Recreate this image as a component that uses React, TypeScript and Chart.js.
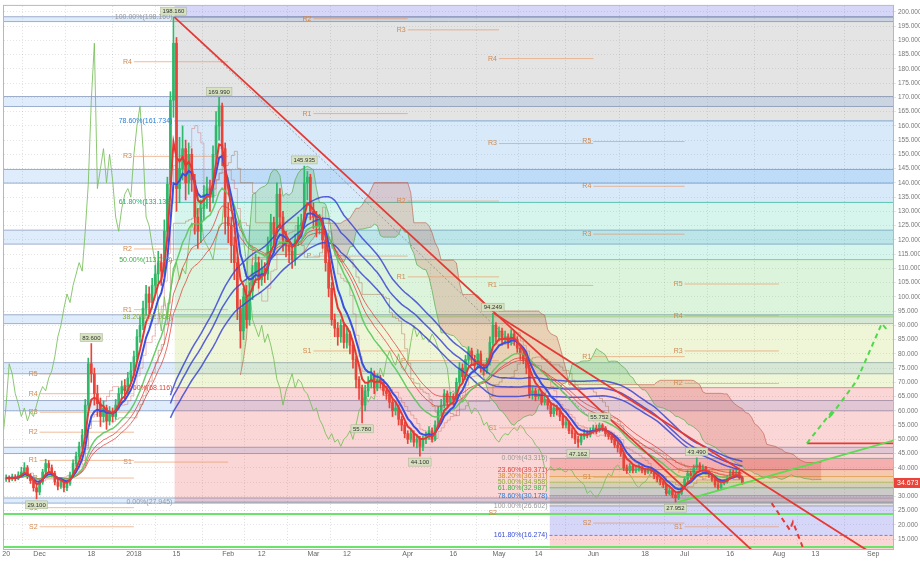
import React, { useEffect, useRef } from 'react';
import { Chart, registerables } from 'chart.js';

Chart.register(...registerables);

const FONT = '"Liberation Sans", Arial, sans-serif';

// ---------- price data (daily, day 0 = 20 Nov 2017) ----------
const firstOpen = 36.0;
const closes = [
  36.5, 36.0, 36.8, 36.2, 37.5, 38.5, 40.0, 37.0, 35.5, 33.0,
  31.5, 35.0, 38.5, 41.5, 40.0, 38.0, 35.0, 33.5, 35.5, 33.0,
  34.5, 37.5, 41.5, 44.0, 47.5, 51.5, 62.0, 76.5, 73.0, 66.0,
  62.5, 58.0, 61.0, 56.5, 59.5, 58.0, 62.0, 66.0, 68.5, 67.0,
  71.5, 74.0, 79.0, 86.0, 90.0, 96.0, 101.0, 98.0, 104.0, 108.0,
  112.0, 109.0, 123.0, 139.5, 169.0, 189.0, 138.0, 145, 152, 140,
  150, 141, 128, 123, 131, 136, 138, 135, 150, 160,
  167, 152, 128, 125, 118, 112, 96, 88, 100, 92,
  102, 108, 112, 106, 110, 108, 118, 126, 122, 136,
  128, 120, 118, 116, 113, 120, 125, 126, 140, 142,
  130, 128, 125, 127, 120, 112, 103, 92, 89, 86,
  90, 84, 87, 83, 78, 71, 68, 62, 67, 70,
  73, 68, 71, 70, 67, 66, 63, 60, 61, 57,
  55, 52, 50, 52, 49, 50, 47.5, 50, 51, 53,
  50, 55, 60, 62, 66, 63, 65, 64, 70, 75,
  72, 78, 81, 78, 76, 80, 75, 74, 77, 84,
  90, 86, 88, 85, 86, 84, 87, 85, 82, 80,
  78, 75, 66, 67, 65, 66, 63, 64, 62, 59,
  61, 60, 58, 55, 56, 53, 52, 50, 49, 51,
  52, 51.5, 53, 54, 53, 55, 54, 52, 51, 50,
  48, 47, 45, 40, 39, 40.5, 39, 39.5, 40, 39,
  38.5, 39.5, 39, 37, 36, 35, 34, 31, 32, 30.5,
  29.5, 31, 33, 36, 38, 37, 40, 41, 39.5, 40,
  38.5, 37.5, 36, 34, 33, 34.5, 35, 36.5, 38.5, 37.5,
  38.5, 36.5, 34.673,
];
const highs = [
  37.5, 37.2, 37.8, 37.6, 38.6, 40.2, 41.8, 40.8, 38.0, 36.2,
  34.0, 36.0, 39.5, 43.0, 42.5, 41.0, 38.8, 36.0, 36.4, 36.0,
  35.5, 38.5, 42.8, 45.5, 49.0, 53.5, 64.0, 78.5, 83.6, 75.0,
  69.0, 64.5, 63.5, 62.0, 61.5, 61.0, 64.0, 68.0, 70.5, 71.0,
  73.5, 77.0, 81.0, 88.5, 93.0, 98.5, 104.0, 103.5, 106.5, 111.0,
  116.0, 115.0, 127.0, 142.0, 172.0, 198.16, 191.0, 156, 160, 155,
  154, 152, 143, 131, 134, 139, 142, 141, 153, 165,
  169.99, 168, 154, 133, 128, 121, 114, 99, 103, 104,
  105, 111, 115, 114, 113, 112, 121, 129, 128, 140,
  138, 130, 123, 120, 118, 122, 128, 129, 145.9, 144,
  143, 133, 130, 129, 128, 121, 113, 105, 94, 91,
  92, 91, 89, 88, 84, 79, 72, 69, 69, 72,
  75, 74, 73, 72.5, 71, 68.5, 67, 64, 63, 62,
  58, 56, 53, 53.5, 53, 51.5, 51, 51, 52.5, 54.5,
  54, 56.5, 61.5, 64, 67.5, 67, 66.5, 66, 71.5, 77,
  76.5, 79.5, 82.5, 82, 79.5, 81.5, 81, 76.5, 78.5, 86,
  94.25, 91, 89.5, 89, 88, 87, 88.5, 88, 86, 83,
  81.5, 79, 76, 68.5, 68, 67.5, 67, 65.5, 65, 63,
  62.5, 62, 61, 59, 57.5, 56.5, 54, 53, 51, 52,
  53.5, 53, 54, 55, 55, 55.75, 55.5, 54.5, 53, 52,
  50.5, 49, 47.5, 45.5, 41, 41.5, 41, 40.5, 41, 40.6,
  39.8, 40.4, 40.2, 39.5, 37.8, 36.8, 35.8, 34.5, 33, 32.5,
  31.2, 31.8, 34, 36.8, 39, 38.8, 41, 43.49, 41.8, 41,
  40.5, 39, 38, 36.5, 34.8, 35.2, 35.8, 37.2, 39.5, 39.2,
  39.8, 39, 37,
];
const lows = [
  35.2, 35.0, 35.5, 35.4, 35.8, 37.0, 37.8, 36.2, 34.5, 31.8,
  29.1, 30.5, 34.2, 37.8, 38.6, 36.8, 34.0, 32.2, 32.8, 31.5,
  32.0, 33.8, 36.8, 40.5, 43.0, 46.5, 50.5, 60.5, 70.0, 62.0,
  58.0, 54.5, 56.0, 53.5, 55.0, 56.0, 57.0, 60.5, 64.5, 64.0,
  66.0, 70.0, 72.5, 77.5, 84.0, 88.5, 93.5, 94.0, 96.0, 101.0,
  105.0, 104.0, 107.0, 120.0, 137.0, 163.0, 130.0, 133, 141, 134,
  136, 137, 122, 117, 119, 127, 131, 130, 133, 147,
  155, 146, 122, 119, 112, 106, 92, 82, 85, 89,
  90, 99, 105, 103, 104, 105, 106, 116, 118, 121,
  124, 116, 114, 112, 110, 111, 118, 122, 124, 134,
  127, 124, 121, 122, 117, 109, 100, 90, 86, 83,
  84, 82, 82, 80, 75, 68, 64, 55.78, 60, 65,
  68, 66, 67, 68, 65.5, 64, 61, 58, 58.5, 55,
  53, 50.5, 48.5, 49, 47.5, 47, 44.1, 46, 48.5, 50,
  49, 49.5, 54, 58.5, 61, 61.5, 62, 62, 63, 69,
  70, 71, 76.5, 76, 74, 75, 73.5, 72.5, 73, 76,
  83, 84, 84.5, 83, 83.5, 82, 83, 83, 80.5, 78,
  76.5, 73, 64.5, 64, 63.5, 64, 62, 62, 60.5, 58,
  58, 58.5, 56.5, 54, 54, 52, 50.5, 48.5, 47.16, 48,
  50, 50.5, 50.8, 52, 52, 52.5, 52.8, 51, 50, 48.8,
  47, 45.5, 44, 39, 38, 38.3, 38.2, 38.3, 38.8, 38.2,
  37.6, 38, 38, 36.2, 35, 34, 33, 30.2, 30.5, 29.5,
  27.95, 28.8, 30.5, 32.5, 35.2, 36.2, 36.5, 39.5, 38.8, 38.5,
  37.8, 36.6, 35.2, 33.2, 32.2, 32.6, 34, 34.6, 36, 37,
  37.2, 36, 34.2,
];

// ---------- axes ----------
const tickDays = [0, 11, 28, 42, 56, 73, 84, 101, 112, 132, 147, 162, 175, 193, 210, 223, 238, 254, 266, 285];
const tickLabels = ['20', 'Dec', '18', '2018', '15', 'Feb', '12', 'Mar', '12', 'Apr', '16', 'May', '14', 'Jun', '18', 'Jul', '16', 'Aug', '13', 'Sep'];
const yTicks = [15, 20, 25, 30, 35, 40, 45, 50, 55, 60, 65, 70, 75, 80, 85, 90, 95, 100, 105, 110, 115, 120, 125, 130, 135, 140, 145, 150, 155, 160, 165, 170, 175, 180, 185, 190, 195, 200];

// ---------- fibonacci retracements ----------
const fib1Start = 55.3;
const fib1Levels = [198.16, 161.734, 133.138, 113.053, 92.968, 68.116, 27.945];
const fib1Pcts = ['100.00', '78.60', '61.80', '50.00', '38.20', '23.60', '0.00'];
const fib2Start = 178.6;
const fib2Levels = [43.315, 39.371, 36.931, 34.958, 32.987, 30.178, 26.602, 16.274];
const fib2Pcts = ['0.00', '23.60', '38.20', '50.00', '61.80', '78.60', '100.00', '161.80'];

// ---------- horizontal support/resistance zones ----------
const zoneLows = [196.6, 166.8, 139.9, 118.5, 90.6, 73.0, 60.0, 45.0, 27.6];
const zoneHighs = [198.3, 170.3, 144.7, 123.4, 93.7, 76.9, 63.6, 47.2, 29.4];
const supportLevels = [23.8, 12.2];

// ---------- monthly pivots ----------
const pivotStarts = [11, 42, 101, 132, 162, 193, 223];
const pivotEnds = [42, 73, 132, 162, 193, 223, 254];
const pivotNames = [
  ['R5', 'R4', 'R3', 'R2', 'R1', 'P', 'S1', 'S2'],
  ['R4', 'R3', 'R2', 'R1', 'S1'],
  ['R2', 'R1', 'P', 'S1'],
  ['R3', 'R2', 'R1', 'P'],
  ['R4', 'R3', 'R1', 'S1', 'S2'],
  ['R5', 'R4', 'R3', 'R1', 'S1', 'S2'],
  ['R5', 'R4', 'R3', 'R2', 'P', 'S1'],
];
const pivotValues = [
  [73, 66, 59.5, 52.5, 42.6, 36.4, 26, 19.3],
  [182.5, 149.3, 116.8, 95.5, 42],
  [197.6, 164.3, 114.3, 81],
  [193.7, 133.6, 107, 77.6],
  [183.6, 153.8, 104, 54, 24],
  [154.5, 138.8, 122, 79, 36.7, 20.6],
  [104.5, 93.4, 81, 69.6, 39, 19.3],
];

// ---------- swing labels ----------
const peakDays = [10, 28, 55, 70, 98, 117, 136, 160, 188, 195, 220, 227];
const peakValues = [29.1, 83.6, 198.16, 169.99, 145.935, 55.78, 44.1, 94.249, 47.162, 55.752, 27.952, 43.49];
const peakIsHigh = [false, true, true, true, true, false, false, true, false, true, false, true];

// ---------- drawn lines ----------
const trendA = [[55.3, 198.16], [250, 6.3]];
const trendB = [[160.3, 94.25], [290, 6.3]];
const fibDiag = [[55.3, 198.16], [220.7, 27.95]];
const greenTrend = [[220.7, 27.95], [292, 49.7]];
const redLevel = [[263.2, 48.6], [292, 48.6]];
const greenProjection = [[263.2, 48.6], [271.7, 60.1], [270.4, 57.3], [279.6, 70.6], [287.8, 90.6], [289.8, 88.1]];
const redProjection = [[251.6, 27.6], [257.6, 18.2], [258.6, 21], [261.8, 12.2]];
const lastPrice = 34.673;

// ---------- helpers ----------
function ema(v: number[], n: number) {
  const k = 2 / (n + 1);
  const out: number[] = [];
  let p = v[0];
  v.forEach((x, i) => { p = i === 0 ? x : p + k * (x - p); out.push(p); });
  return out;
}
function sma(v: number[], n: number) {
  return v.map((_, i) => {
    if (i < n - 1) return null;
    let s = 0;
    for (let j = i - n + 1; j <= i; j++) s += v[j];
    return s / n;
  });
}
function mid(i: number, n: number) {
  if (i < n - 1) return null;
  let h = -Infinity, l = Infinity;
  for (let j = i - n + 1; j <= i; j++) { h = Math.max(h, highs[j]); l = Math.min(l, lows[j]); }
  return (h + l) / 2;
}
const pts = (a: number[][]) => a.map(([x, y]) => ({ x, y }));
const series = (a: (number | null)[], shift = 0) => {
  const o: any[] = [];
  a.forEach((v, i) => { if (v !== null && v !== undefined) o.push({ x: i + shift, y: v }); });
  return o;
};
const line = (data: any[], color: string, width: number, order: number, extra: any = {}) => ({
  type: 'line', data, borderColor: color, borderWidth: width, pointRadius: 0, pointHoverRadius: 0,
  fill: false, tension: 0, order, ...extra,
});

export default function App() {
  const ref = useRef<HTMLCanvasElement>(null);

  useEffect(() => {
    if (!ref.current) return;
    const opens = closes.map((c, i) => (i === 0 ? firstOpen : closes[i - 1]));
    const up = closes.map((c, i) => c >= opens[i]);
    const GREEN = '#2fb86a';
    const RED = '#e8443a';

    const ds: any[] = [];

    // S/R zones
    zoneLows.forEach((lo, i) => {
      ds.push(line([{ x: -3, y: zoneHighs[i] }, { x: 295, y: zoneHighs[i] }], 'rgba(130,150,185,0.75)', 1, 100,
        { fill: { value: lo }, backgroundColor: 'rgba(110,170,235,0.22)' }));
    });
    const zb: any[] = [];
    zoneLows.forEach((lo) => { zb.push({ x: -3, y: lo }, { x: 295, y: lo }, { x: 295, y: null }); });
    ds.push(line(zb, 'rgba(130,150,185,0.75)', 1, 100, { spanGaps: false }));

    // fib 1
    const fib1Fill = ['rgba(120,120,120,0.2)', 'rgba(40,140,230,0.18)', 'rgba(0,190,140,0.16)', 'rgba(80,200,80,0.2)', 'rgba(175,210,60,0.2)', 'rgba(230,70,70,0.22)'];
    const fib1Line = ['rgba(140,140,140,0.7)', 'rgba(40,130,220,0.6)', 'rgba(0,170,120,0.6)', 'rgba(70,180,70,0.6)', 'rgba(150,190,50,0.6)', 'rgba(220,60,60,0.6)', 'rgba(140,140,140,0.7)'];
    ds.push(line([{ x: fib1Start, y: 210 }, { x: 295, y: 210 }], 'rgba(0,0,0,0)', 0, 96,
      { fill: { value: fib1Levels[0] }, backgroundColor: 'rgba(90,90,230,0.25)' }));
    fib1Levels.forEach((lv, i) => {
      const extra: any = i < fib1Fill.length ? { fill: { value: fib1Levels[i + 1] }, backgroundColor: fib1Fill[i] } : {};
      ds.push(line([{ x: fib1Start, y: lv }, { x: 295, y: lv }], fib1Line[i], 1, 95, extra));
    });

    // fib 2
    const fib2Fill = ['rgba(230,60,60,0.25)', 'rgba(230,150,40,0.22)', 'rgba(180,200,50,0.22)', 'rgba(80,180,80,0.22)', 'rgba(0,150,140,0.18)', 'rgba(120,120,120,0.22)', 'rgba(90,90,230,0.25)', 'rgba(230,70,70,0.22)'];
    const fib2Line = ['rgba(140,140,140,0.7)', 'rgba(220,60,60,0.6)', 'rgba(220,140,40,0.6)', 'rgba(150,180,40,0.6)', 'rgba(60,170,60,0.6)', 'rgba(40,130,220,0.6)', 'rgba(140,140,140,0.7)', 'rgba(80,80,220,0.7)'];
    fib2Levels.forEach((lv, i) => {
      const target = i < fib2Levels.length - 1 ? fib2Levels[i + 1] : 0;
      ds.push(line([{ x: fib2Start, y: lv }, { x: 295, y: lv }], fib2Line[i], 1, 94,
        { fill: { value: target }, backgroundColor: fib2Fill[i], borderDash: i === 7 ? [3, 2] : [] }));
    });

    // green support lines
    supportLevels.forEach((lv) => {
      ds.push(line([{ x: -3, y: lv }, { x: 295, y: lv }], '#6be36b', 2, 30));
    });

    // ichimoku
    const tenkan = closes.map((_, i) => mid(i, 9));
    const kijun = closes.map((_, i) => mid(i, 26));
    const spanB = closes.map((_, i) => mid(i, 52));
    const aPts: any[] = [];
    const bPts: any[] = [];
    closes.forEach((_, i) => {
      if (i >= 51) {
        aPts.push({ x: i + 26, y: ((tenkan[i] as number) + (kijun[i] as number)) / 2 });
        bPts.push({ x: i + 26, y: spanB[i] });
      }
    });
    ds.push(line(aPts, 'rgba(90,170,80,0.7)', 1, 60));
    ds.push(line(bPts, 'rgba(190,90,70,0.6)', 1, 60,
      { fill: { target: '-1', above: 'rgba(200,60,40,0.2)', below: 'rgba(80,190,80,0.22)' } }));
    ds.push(line(series(tenkan), 'rgba(210,90,90,0.4)', 1, 55, { stepped: true }));
    ds.push(line(series(kijun), 'rgba(160,110,70,0.45)', 1, 55, { stepped: true }));
    ds.push(line(series(closes, -26), 'rgba(120,190,90,0.85)', 1, 50));

    // pivots
    const pv: any[] = [];
    pivotStarts.forEach((s, m) => {
      pivotValues[m].forEach((v) => { pv.push({ x: s, y: v }, { x: pivotEnds[m], y: v }, { x: pivotEnds[m], y: null }); });
    });
    ds.push(line(pv, 'rgba(232,150,100,0.65)', 1, 45, { spanGaps: false }));

    // moving averages
    const sH = sma(highs, 55), sC = sma(closes, 55), sL = sma(lows, 55);
    ds.push(line(series(sH), 'rgba(60,70,210,0.85)', 1.5, 25));
    ds.push(line(series(sC), 'rgba(60,70,210,0.85)', 1.5, 25));
    ds.push(line(series(sL), 'rgba(60,70,210,0.85)', 1.5, 25));
    ds.push(line(series(ema(closes, 26)), 'rgba(225,60,55,0.75)', 1, 24));
    ds.push(line(series(ema(closes, 32)), 'rgba(225,60,55,0.75)', 1, 24));
    ds.push(line(series(ema(closes, 20)), 'rgba(90,200,90,0.9)', 1.5, 23));
    ds.push(line(series(ema(closes, 8)), '#3a4fe0', 2, 22));
    ds.push(line(series(ema(closes, 5)), '#e53935', 2, 21));

    // candles
    ds.push({
      type: 'bar', data: closes.map((c, i) => ({ x: i, y: [lows[i], highs[i]] })),
      backgroundColor: up.map((u) => (u ? GREEN : RED)), barThickness: 1, grouped: false, order: 28,
    });
    ds.push({
      type: 'bar', data: closes.map((c, i) => ({ x: i, y: [opens[i], c] })),
      backgroundColor: up.map((u) => (u ? GREEN : RED)), barThickness: 2, grouped: false, minBarLength: 1, order: 27,
    });

    // drawn lines
    ds.push(line(pts(fibDiag), 'rgba(120,120,120,0.6)', 1, 6, { borderDash: [2, 2] }));
    ds.push(line(pts(trendA), '#e53935', 1.8, 5));
    ds.push(line(pts(trendB), '#e53935', 1.8, 5));
    ds.push(line(pts(greenTrend), '#59dd4f', 1.8, 5));
    ds.push(line(pts(redLevel), '#e53935', 1.8, 5));
    ds.push(line(pts(greenProjection), '#4fd94a', 2, 4, { borderDash: [5, 4] }));
    ds.push(line(pts(redProjection), '#e53935', 2, 4, { borderDash: [5, 4] }));

    const annot = {
      id: 'annot',
      afterDatasetsDraw(chart: any) {
        const { ctx, chartArea: ca } = chart;
        const xs = chart.scales.x, ys = chart.scales.y;
        ctx.save();
        ctx.beginPath(); ctx.rect(ca.left, ca.top, ca.width, ca.height); ctx.clip();
        ctx.textBaseline = 'middle';
        ctx.textAlign = 'right';
        ctx.font = `7px ${FONT}`;
        const f1c = ['#999', '#2a7fd4', '#27a86e', '#3cb043', '#8aac30', '#e0443c', '#999'];
        fib1Levels.forEach((lv, i) => {
          ctx.fillStyle = f1c[i];
          ctx.fillText(`${fib1Pcts[i]}%(${lv.toFixed(3)})`, xs.getPixelForValue(fib1Start) - 2, ys.getPixelForValue(lv));
        });
        const f2c = ['#999', '#e0443c', '#d08a2c', '#8aac30', '#3cb043', '#2a7fd4', '#999', '#3a4fd8'];
        fib2Levels.forEach((lv, i) => {
          ctx.fillStyle = f2c[i];
          ctx.fillText(`${fib2Pcts[i]}%(${lv.toFixed(3)})`, xs.getPixelForValue(fib2Start) - 2, ys.getPixelForValue(lv));
        });
        ctx.fillStyle = '#d0884f';
        pivotStarts.forEach((s, m) => {
          pivotNames[m].forEach((nm, k) => {
            ctx.fillText(nm, xs.getPixelForValue(s) - 2, ys.getPixelForValue(pivotValues[m][k]));
          });
        });
        ctx.font = `6px ${FONT}`;
        ctx.textAlign = 'center';
        peakDays.forEach((d, i) => {
          const t = peakValues[i].toFixed(3);
          const w = ctx.measureText(t).width + 4;
          const px = xs.getPixelForValue(d);
          const py = ys.getPixelForValue(peakValues[i]);
          const cy = peakIsHigh[i] ? py - 6 : py + 6;
          ctx.fillStyle = 'rgba(214,226,190,0.95)';
          ctx.fillRect(px - w / 2, cy - 4, w, 8);
          ctx.strokeStyle = 'rgba(150,160,130,0.8)';
          ctx.lineWidth = 0.5;
          ctx.strokeRect(px - w / 2, cy - 4, w, 8);
          ctx.fillStyle = '#333';
          ctx.fillText(t, px, cy + 0.5);
        });
        ctx.restore();
        // frame
        ctx.save();
        ctx.strokeStyle = '#b8b8b8';
        ctx.lineWidth = 1;
        ctx.strokeRect(ca.left - 0.5, ca.top - 0.5, ca.width + 1, ca.height + 1);
        // last price tag
        const ly = ys.getPixelForValue(lastPrice);
        ctx.fillStyle = '#e8443a';
        ctx.fillRect(ca.right + 1, ly - 5, 26, 10);
        ctx.fillStyle = '#fff';
        ctx.font = `7px ${FONT}`;
        ctx.textAlign = 'left';
        ctx.textBaseline = 'middle';
        ctx.fillText(lastPrice.toFixed(3), ca.right + 4, ly + 0.5);
        ctx.restore();
      },
    };

    const chart = new Chart(ref.current, {
      type: 'bar',
      data: { datasets: ds },
      options: {
        animation: false,
        responsive: false,
        devicePixelRatio: 1,
        layout: { padding: { left: 4, top: 4, right: 0, bottom: 0 } },
        plugins: { legend: { display: false }, tooltip: { enabled: false } },
        scales: {
          x: {
            type: 'linear', min: -0.7, max: 291.5, offset: false,
            afterBuildTicks: (s: any) => { s.ticks = tickDays.map((v) => ({ value: v })); },
            afterFit: (s: any) => { s.height = 12; },
            ticks: {
              autoSkip: false, maxRotation: 0, padding: 0,
              callback: (_v: any, i: number) => tickLabels[i],
              font: { size: 7, family: FONT }, color: '#666',
            },
            grid: { color: 'rgba(0,0,0,0.13)', tickLength: 1 },
            border: { dash: [1, 2], color: '#b8b8b8' },
          },
          y: {
            type: 'linear', position: 'right', min: 11.5, max: 202.1,
            afterBuildTicks: (s: any) => { s.ticks = yTicks.map((v) => ({ value: v })); },
            afterFit: (s: any) => { s.width = 27; },
            ticks: {
              padding: 2,
              callback: (v: any) => Number(v).toFixed(3),
              font: { size: 6.5, family: FONT }, color: '#777',
            },
            grid: { color: 'rgba(0,0,0,0.1)', tickLength: 3 },
            border: { dash: [1, 2], color: '#b8b8b8' },
          },
        },
      } as any,
      plugins: [annot],
    } as any);
    return () => chart.destroy();
  }, []);

  return (
    <div style={{ position: 'fixed', left: 0, top: 0, width: 920, height: 561, background: '#fff' }}>
      <canvas ref={ref} width={920} height={561} style={{ display: 'block' }} />
    </div>
  );
}
